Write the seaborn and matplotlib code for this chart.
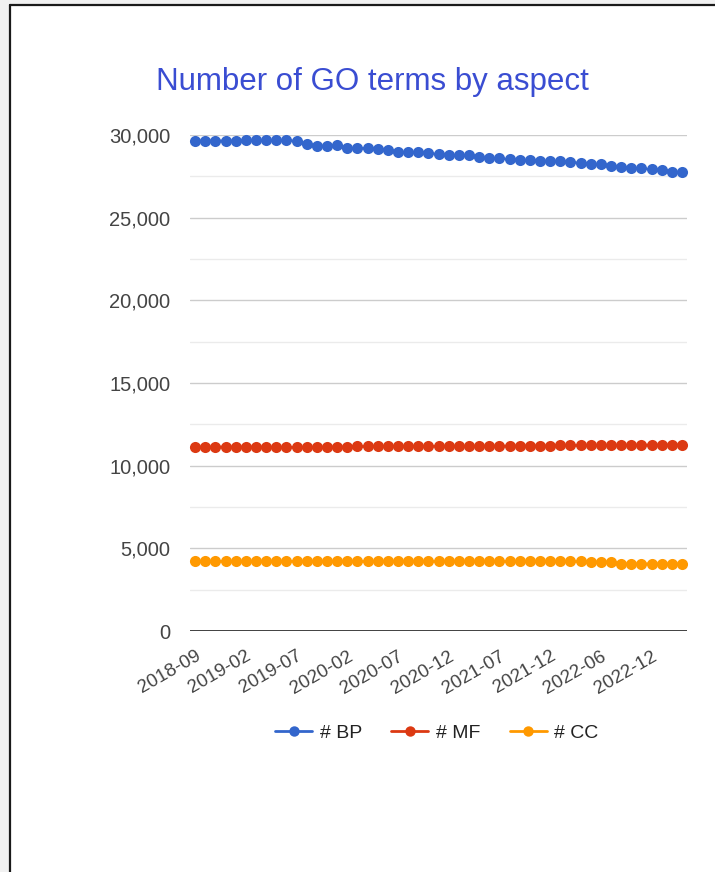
import matplotlib
matplotlib.use("Agg")
import matplotlib.pyplot as plt
import seaborn as sns
import pandas as pd
from matplotlib.ticker import FuncFormatter, MultipleLocator
from matplotlib.patches import Rectangle
from matplotlib.lines import Line2D

# GO release months (one entry per release)
releases = [
    "2018-09", "2018-10", "2018-11", "2018-12", "2019-01",
    "2019-02", "2019-03", "2019-04", "2019-05", "2019-06",
    "2019-07", "2019-10", "2019-11", "2019-12", "2020-01",
    "2020-02", "2020-03", "2020-04", "2020-05", "2020-06",
    "2020-07", "2020-08", "2020-09", "2020-10", "2020-11",
    "2020-12", "2021-01", "2021-02", "2021-03", "2021-05",
    "2021-07", "2021-08", "2021-09", "2021-10", "2021-11",
    "2021-12", "2022-01", "2022-03", "2022-04", "2022-05",
    "2022-06", "2022-07", "2022-09", "2022-10", "2022-11",
    "2022-12", "2023-01", "2023-03", "2023-05",
]

# Number of terms per aspect at each release
bp_terms = [
    29650, 29660, 29660, 29660, 29660, 29670, 29670, 29670, 29680, 29680,
    29650, 29430, 29350, 29350, 29380, 29200, 29200, 29190, 29180, 29090,
    28950, 28950, 28980, 28930, 28830, 28790, 28790, 28780, 28640, 28590,
    28580, 28540, 28480, 28480, 28440, 28440, 28430, 28340, 28330, 28240,
    28220, 28120, 28040, 28020, 27980, 27920, 27910, 27780, 27770,
]
mf_terms = [
    11150, 11150, 11150, 11150, 11150, 11150, 11150, 11140, 11120, 11120,
    11110, 11120, 11130, 11140, 11150, 11150, 11160, 11160, 11170, 11170,
    11170, 11180, 11180, 11180, 11190, 11190, 11190, 11190, 11200, 11200,
    11200, 11200, 11210, 11210, 11210, 11210, 11220, 11220, 11230, 11230,
    11240, 11250, 11250, 11260, 11260, 11270, 11270, 11280, 11280,
]
cc_terms = [
    4220, 4220, 4220, 4220, 4220, 4220, 4230, 4230, 4230, 4230,
    4220, 4210, 4210, 4210, 4210, 4210, 4210, 4210, 4210, 4210,
    4210, 4210, 4210, 4210, 4210, 4210, 4210, 4210, 4210, 4210,
    4210, 4210, 4210, 4210, 4210, 4210, 4210, 4210, 4210, 4200,
    4200, 4200, 4080, 4080, 4080, 4080, 4080, 4080, 4080,
]

series_names = ["# BP", "# MF", "# CC"]
series_colors = ["#3366cc", "#dc3912", "#ff9900"]

frames = []
for name, vals in zip(series_names, [bp_terms, mf_terms, cc_terms]):
    frames.append(pd.DataFrame({
        "idx": range(len(releases)),
        "release": releases,
        "terms": vals,
        "aspect": name,
    }))
df = pd.concat(frames, ignore_index=True)

sns.set_theme(style="white")
plt.rcParams["font.family"] = ["Liberation Sans", "DejaVu Sans"]

W, H = 715, 872
fig = plt.figure(figsize=(W / 100, H / 100), dpi=100)
fig.patch.set_facecolor("#f1f1f1")

# white page with a dark edge on the left and top
fig.patches.append(Rectangle((10 / W, 0), 1, 1 - 6 / H, transform=fig.transFigure,
                             facecolor="white", edgecolor="none", zorder=-10))
fig.add_artist(Line2D([9.5 / W, 9.5 / W], [0, 1 - 5.5 / H], transform=fig.transFigure,
                      color="#1a1a1a", lw=1.6, zorder=-5))
fig.add_artist(Line2D([9.5 / W, 1], [1 - 5.5 / H, 1 - 5.5 / H], transform=fig.transFigure,
                      color="#1a1a1a", lw=1.6, zorder=-5))

ax = fig.add_axes([190 / W, 1 - 631 / H, (687 - 190) / W, (631 - 135) / H])
ax.set_facecolor("none")
ax.set_zorder(1)

sns.lineplot(data=df, x="idx", y="terms", hue="aspect", hue_order=series_names,
             palette=series_colors, marker="o", markersize=8, markeredgewidth=0,
             linewidth=1.5, ax=ax, legend=False, clip_on=False, zorder=3)

ax.set_xlim(-0.5, len(releases) - 0.5)
ax.set_ylim(0, 30000)
ax.yaxis.set_major_locator(MultipleLocator(5000))
ax.yaxis.set_minor_locator(MultipleLocator(2500))
ax.yaxis.set_major_formatter(FuncFormatter(lambda v, p: f"{int(v):,}"))
ax.grid(which="major", axis="y", color="#cccccc", lw=1.0)
ax.grid(which="minor", axis="y", color="#ebebeb", lw=1.0)
ax.grid(which="both", axis="x", visible=False)
ax.set_axisbelow(True)
ax.axhline(0, color="#333333", lw=1.3, zorder=2)

for s in ax.spines.values():
    s.set_visible(False)

tick_pos = list(range(0, len(releases), 5))
ax.set_xticks(tick_pos)
ax.set_xticklabels([releases[i] for i in tick_pos], rotation=30, ha="right",
                   rotation_mode="anchor")
ax.tick_params(axis="x", length=0, pad=12, labelsize=13.5, labelcolor="#444444")
ax.tick_params(axis="y", which="both", length=0, pad=14, labelsize=14.5,
               labelcolor="#444444")
ax.set_xlabel("")
ax.set_ylabel("")

fig.text(372 / W, 1 - 82 / H, "Number of GO terms by aspect", ha="center", va="center",
         fontsize=22.5, color="#3a4dd2")

handles = [Line2D([], [], color=c, lw=2, marker="o", markersize=7.5, markeredgewidth=0)
           for c in series_colors]
leg = ax.legend(handles, series_names, loc="center",
                bbox_to_anchor=(437 / W, 1 - 733 / H), bbox_transform=fig.transFigure,
                ncol=3, frameon=False, fontsize=14, handlelength=1.9,
                handletextpad=0.4, columnspacing=1.5)
for t in leg.get_texts():
    t.set_color("#222222")

fig.savefig("out.png", dpi=100, facecolor=fig.get_facecolor())
